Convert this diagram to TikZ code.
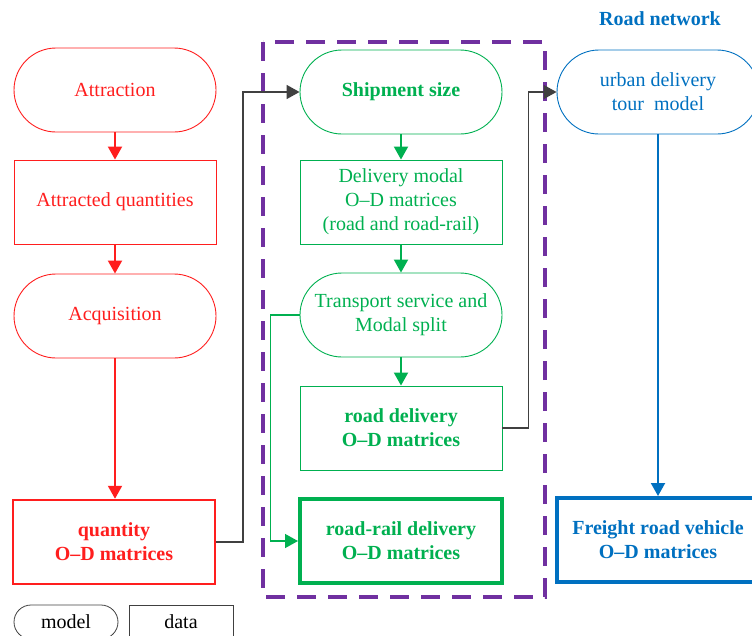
\documentclass[tikz,border=0pt]{standalone}
\usepackage{fontspec}
\setmainfont{Liberation Serif}
\usetikzlibrary{arrows.meta}
\definecolor{cred}{HTML}{FF1E1E}
\definecolor{cgreen}{HTML}{00B050}
\definecolor{cblue}{HTML}{0070C0}
\definecolor{cpurple}{HTML}{7030A0}
\definecolor{cgray}{HTML}{404040}
\begin{document}
\begin{tikzpicture}[x=1pt,y=-1pt,
  font=\fontsize{20}{24}\selectfont,
  base/.style={draw, minimum width=202pt, minimum height=84pt, inner sep=0pt, align=center, line width=0.9pt},
  modelbox/.style={base, rounded corners=42pt},
  databox/.style={base},
  boldtext/.style={font=\fontsize{20}{24}\selectfont\bfseries},
  arr/.style={-{Triangle[width=14pt,length=13pt]}, line width=2pt},
  legendbox/.style={draw=cgray, line width=0.8pt, minimum width=104pt, minimum height=34pt, inner sep=0pt, text=black},
]
\useasboundingbox (0,0) rectangle (752,635);

% purple dashed frame
\draw[cpurple, line width=4pt, dash pattern=on 19pt off 12pt] (263,42) rectangle (545,597);

% left column (red)
\node[modelbox, draw=cred, text=cred] (attr) at (115,90) {Attraction};
\node[databox, draw=cred, text=cred] (attq) at (115,202) {Attracted quantities};
\node[modelbox, draw=cred, text=cred] (acq) at (115,316) {Acquisition};
\node[databox, draw=cred, text=cred, line width=2.5pt, boldtext] (qod) at (114,542) {quantity\\O–D matrices};

% middle column (green)
\node[modelbox, draw=cgreen, text=cgreen, boldtext] (ship) at (401,92) {Shipment size};
\node[databox, draw=cgreen, text=cgreen] (dmod) at (401,202) {Delivery modal\\O–D matrices\\(road and road-rail)};
\node[modelbox, draw=cgreen, text=cgreen] (tsm) at (401,315) {Transport service and\\Modal split};
\node[databox, draw=cgreen, text=cgreen, boldtext] (rod) at (401,428) {road delivery\\O–D matrices};
\node[databox, draw=cgreen, text=cgreen, line width=4pt, boldtext] (rrod) at (401,541) {road-rail delivery\\O–D matrices};

% right column (blue)
\node[text=cblue, boldtext] (rnet) at (660,19) {Road network};
\node[modelbox, draw=cblue, text=cblue] (urb) at (658,92) {urban delivery\\tour\ \ model};
\node[databox, draw=cblue, text=cblue, line width=4pt, boldtext] (frv) at (658,540) {Freight road vehicle\\O–D matrices};

% legend
\node[legendbox, rounded corners=17pt] (lmod) at (66,622) {model};
\node[legendbox] (ldat) at (181,622) {data};

% red arrows
\draw[arr, cred] (attr) -- (attq);
\draw[arr, cred] (attq) -- (acq);
\draw[arr, cred] (acq) -- (acq |- qod.north);

% green arrows
\draw[arr, cgreen] (ship) -- (dmod);
\draw[arr, cgreen] (dmod) -- (tsm);
\draw[arr, cgreen] (tsm) -- (rod);
\draw[arr, cgreen, line width=1.5pt] (tsm.west) -- ++(-29,0) |- (rrod.west);

% gray connectors
\draw[arr, cgray, line width=1.6pt] (qod.east) -- ++(27,0) |- (ship.west);
\draw[arr, cgray, line width=1.6pt] (rod.east) -- ++(26,0) |- (urb.west);

% blue arrow
\draw[arr, cblue] (urb) -- (frv);
\end{tikzpicture}
\end{document}
